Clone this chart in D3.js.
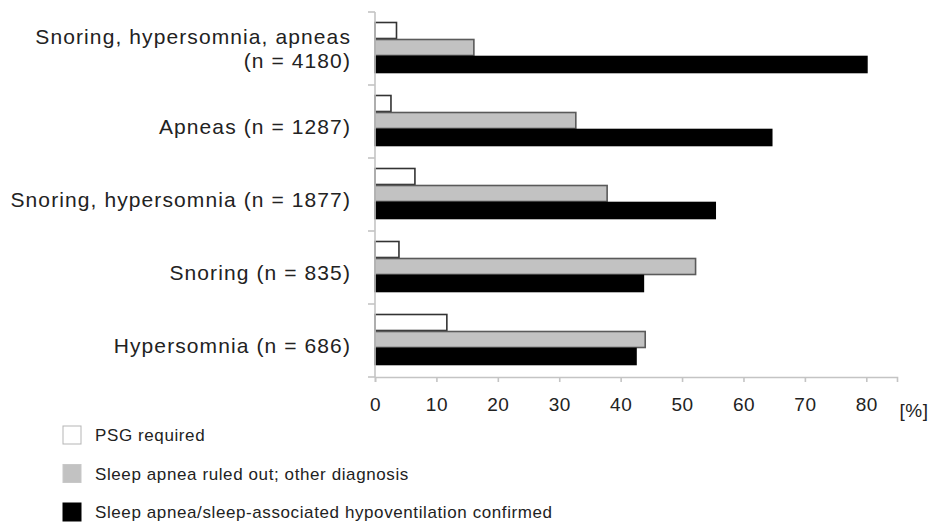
<!DOCTYPE html>
<html><head><meta charset="utf-8">
<script src="https://cdn.jsdelivr.net/npm/d3@7"></script>
<style>body{margin:0;background:#fff}svg{display:block}</style>
</head><body>
<svg id="c" width="931" height="524"></svg>
<script>
const categories = [
  ["Snoring, hypersomnia, apneas", "(n = 4180)"],
  ["Apneas (n = 1287)"],
  ["Snoring, hypersomnia (n = 1877)"],
  ["Snoring (n = 835)"],
  ["Hypersomnia (n = 686)"]
];
const seriesNames = ["PSG required", "Sleep apnea ruled out; other diagnosis", "Sleep apnea/sleep-associated hypoventilation confirmed"];
const psgRequired = [3.5, 2.6, 6.5, 3.9, 11.7];
const ruledOut = [16.1, 32.7, 37.8, 52.2, 44.0];
const confirmed = [80.1, 64.6, 55.4, 43.7, 42.5];
const xTicks = [0, 10, 20, 30, 40, 50, 60, 70, 80];
const unitLabel = "[%]";

const seriesValues = [psgRequired, ruledOut, confirmed];
const fills = ["#ffffff", "#c2c2c2", "#000000"];
const strokes = ["#333333", "#5a5a5a", "#000000"];
const legendStrokes = ["#b5b5b5", "#c8c8c8", "#000000"];

const svg = d3.select("#c");
const font = "'Liberation Sans', Arial, sans-serif";
const x = d3.scaleLinear().domain([0, 85]).range([375, 897]);
const y0 = d3.scaleBand().domain(d3.range(categories.length)).range([12, 377]);
const y1 = d3.scaleBand().domain(d3.range(seriesNames.length)).range([10, 61]);
const axisColor = "#c4c4c4";

// bars
const g = svg.append("g");
categories.forEach((c, i) => {
  seriesValues.forEach((vals, s) => {
    g.append("rect")
      .attr("x", x(0))
      .attr("y", y0(i) + y1(s) + 0.5)
      .attr("width", x(vals[i]) - x(0))
      .attr("height", y1.bandwidth() - 1)
      .attr("fill", fills[s])
      .attr("stroke", strokes[s])
      .attr("stroke-width", 1.6);
  });
});

// y axis
const yAxis = svg.append("g").attr("transform", `translate(${x(0)},0)`);
yAxis.append("line").attr("y1", y0.range()[0]).attr("y2", y0.range()[1]).attr("stroke", axisColor).attr("stroke-width", 1.6);
d3.range(categories.length + 1).forEach(i => {
  const yy = y0.range()[0] + i * y0.step();
  yAxis.append("line").attr("x1", -7).attr("x2", 0).attr("y1", yy).attr("y2", yy).attr("stroke", axisColor).attr("stroke-width", 1.6);
});

// x axis
const xAxis = svg.append("g").attr("transform", `translate(0,${y0.range()[1]})`)
  .call(d3.axisBottom(x).tickValues(xTicks).tickSize(5).tickPadding(16).tickFormat(d3.format("d")));
xAxis.select(".domain").attr("stroke", axisColor).attr("stroke-width", 1.6);
xAxis.selectAll(".tick line").attr("stroke", axisColor).attr("stroke-width", 1.6);
xAxis.selectAll(".tick text").attr("font-family", font).attr("font-size", 19).attr("letter-spacing", 0.5).attr("fill", "#222");
svg.append("text").attr("x", 914).attr("y", y0.range()[1] + 40).attr("text-anchor", "middle")
  .attr("font-family", font).attr("font-size", 19).attr("letter-spacing", 0.5).attr("fill", "#222").text(unitLabel);

// category labels
categories.forEach((lines, i) => {
  const cy = y0(i) + y0.step() / 2 + (lines.length > 1 ? 0 : 5);
  const t = svg.append("text").attr("text-anchor", "end").attr("font-family", font)
    .attr("font-size", 21).attr("letter-spacing", 1.1).attr("fill", "#222");
  lines.forEach((ln, k) => {
    t.append("tspan").attr("x", 351)
      .attr("y", cy + (k - (lines.length - 1) / 2) * 24 + 7.5)
      .text(ln);
  });
});

// legend
seriesNames.forEach((n, s) => {
  const ly = 435 + s * 38.5;
  svg.append("rect").attr("x", 63).attr("y", ly - 9).attr("width", 18).attr("height", 18)
    .attr("fill", fills[s]).attr("stroke", legendStrokes[s]).attr("stroke-width", 1);
  svg.append("text").attr("x", 95).attr("y", ly + 6).attr("font-family", font).attr("font-size", 17)
    .attr("letter-spacing", 0.6).attr("fill", "#222").text(n);
});
</script>
</body></html>
